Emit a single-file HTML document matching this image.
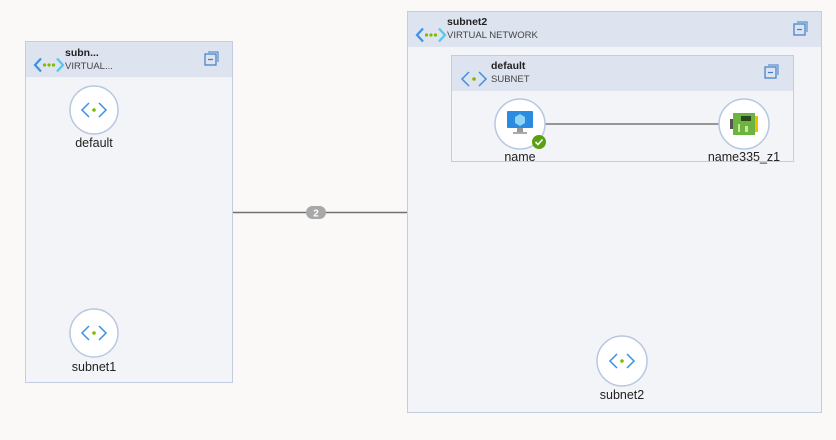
<!DOCTYPE html>
<html><head><meta charset="utf-8"><style>
html,body{margin:0;padding:0;background:#faf9f8;}
svg{display:block;font-family:"Liberation Sans","DejaVu Sans",sans-serif;}
</style></head><body>
<svg width="836" height="440" viewBox="0 0 836 440" xmlns="http://www.w3.org/2000/svg">
<defs>
<g id="vnet">
  <path d="M-8,-6.5 L-14,0 L-8,6.5" fill="none" stroke="#3c91e6" stroke-width="2.2"/>
  <path d="M8,-6.5 L14,0 L8,6.5" fill="none" stroke="#50c8f0" stroke-width="2.2"/>
  <circle cx="-4.5" cy="0" r="1.6" fill="#7fba00"/><circle cx="0" cy="0" r="1.6" fill="#7fba00"/><circle cx="4.5" cy="0" r="1.6" fill="#7fba00"/>
</g>
<g id="sub">
  <path d="M-5,-7 L-12,0 L-5,7" fill="none" stroke="#3c91e6" stroke-width="1.5"/>
  <path d="M5,-7 L12,0 L5,7" fill="none" stroke="#3c91e6" stroke-width="1.5"/>
  <circle cx="0" cy="0" r="1.8" fill="#7fba00"/>
</g>
<g id="col">
  <rect x="-6" y="-6" width="11" height="11" fill="none" stroke="#3c7fc8" stroke-width="1.2"/>
  <path d="M-3,-8 H7 V2" fill="none" stroke="#3c7fc8" stroke-width="1"/>
  <line x1="-3" y1="-0.5" x2="2" y2="-0.5" stroke="#3c7fc8" stroke-width="1.2"/>
</g>
</defs>

<line x1="233" y1="212.5" x2="407" y2="212.5" stroke="#707070" stroke-width="1.5"/>
<rect x="306" y="206" width="20" height="13" rx="6.5" fill="#a8a8a8"/>
<text x="316" y="216.5" font-size="10" font-weight="bold" fill="#fff" text-anchor="middle">2</text>

<rect x="25.5" y="41.5" width="207" height="341" fill="#f3f4f7" stroke="#c3cde0"/>
<rect x="26" y="42" width="206" height="35" fill="#dde3ef"/>
<use href="#vnet" x="49" y="65"/>
<text x="65" y="56" font-size="10.5" font-weight="bold" fill="#222">subn...</text>
<text x="65" y="69" font-size="9.5" fill="#444">VIRTUAL...</text>
<use href="#col" x="211" y="60"/>

<circle cx="94" cy="110" r="24" fill="#fff" stroke="#b8c8e0" stroke-width="1.5"/>
<use href="#sub" x="94" y="110"/>
<text x="94" y="147" font-size="12.5" fill="#222" text-anchor="middle">default</text>

<circle cx="94" cy="333" r="24" fill="#fff" stroke="#b8c8e0" stroke-width="1.5"/>
<use href="#sub" x="94" y="333"/>
<text x="94" y="371" font-size="12.5" fill="#222" text-anchor="middle">subnet1</text>

<rect x="407.5" y="11.5" width="414" height="401" fill="#f3f4f7" stroke="#c3cde0"/>
<rect x="408" y="12" width="413" height="35" fill="#dde3ef"/>
<use href="#vnet" x="431" y="35"/>
<text x="447" y="25" font-size="10.5" font-weight="bold" fill="#222">subnet2</text>
<text x="447" y="38" font-size="9.5" fill="#444">VIRTUAL NETWORK</text>
<use href="#col" x="800" y="30"/>

<rect x="451.5" y="55.5" width="342" height="106" fill="#f3f4f7" stroke="#c3cde0"/>
<rect x="452" y="56" width="341" height="35" fill="#dde3ef"/>
<use href="#sub" x="474" y="79"/>
<text x="491" y="69" font-size="10.5" font-weight="bold" fill="#222">default</text>
<text x="491" y="82" font-size="9.5" fill="#444">SUBNET</text>
<use href="#col" x="771" y="73"/>

<line x1="545" y1="124" x2="719" y2="124" stroke="#777" stroke-width="1.5"/>

<circle cx="520" cy="124" r="25" fill="#fff" stroke="#b8c8e0" stroke-width="1.5"/>
<rect x="507" y="111" width="26" height="17" rx="1" fill="#2b8be0"/>
<path d="M520,114 l5,3 v6 l-5,3 l-5,-3 v-6z" fill="#8fd3f7"/>
<rect x="517" y="128" width="6" height="4" fill="#999"/>
<rect x="513" y="132" width="14" height="2" fill="#aaa"/>
<circle cx="539" cy="142" r="7" fill="#5aa010"/>
<path d="M535.5,142 l2.5,2.5 l4.5,-5" fill="none" stroke="#fff" stroke-width="1.6"/>
<text x="520" y="161" font-size="12.5" fill="#222" text-anchor="middle">name</text>

<circle cx="744" cy="124" r="25" fill="#fff" stroke="#b8c8e0" stroke-width="1.5"/>
<rect x="733" y="113" width="22" height="22" fill="#6db33f"/>
<rect x="730" y="119" width="3" height="10" fill="#555"/>
<rect x="755" y="116" width="3" height="16" fill="#f0c000"/>
<rect x="741" y="116" width="10" height="5" fill="#2a4a1a"/>
<rect x="738" y="124" width="2" height="8" fill="#c8e6a0"/>
<rect x="745" y="126" width="3" height="6" fill="#c8e6a0"/>
<text x="744" y="161" font-size="12.5" fill="#222" text-anchor="middle">name335_z1</text>

<circle cx="622" cy="361" r="25" fill="#fff" stroke="#b8c8e0" stroke-width="1.5"/>
<use href="#sub" x="622" y="361"/>
<text x="622" y="399" font-size="12.5" fill="#222" text-anchor="middle">subnet2</text>
</svg>
</body></html>
